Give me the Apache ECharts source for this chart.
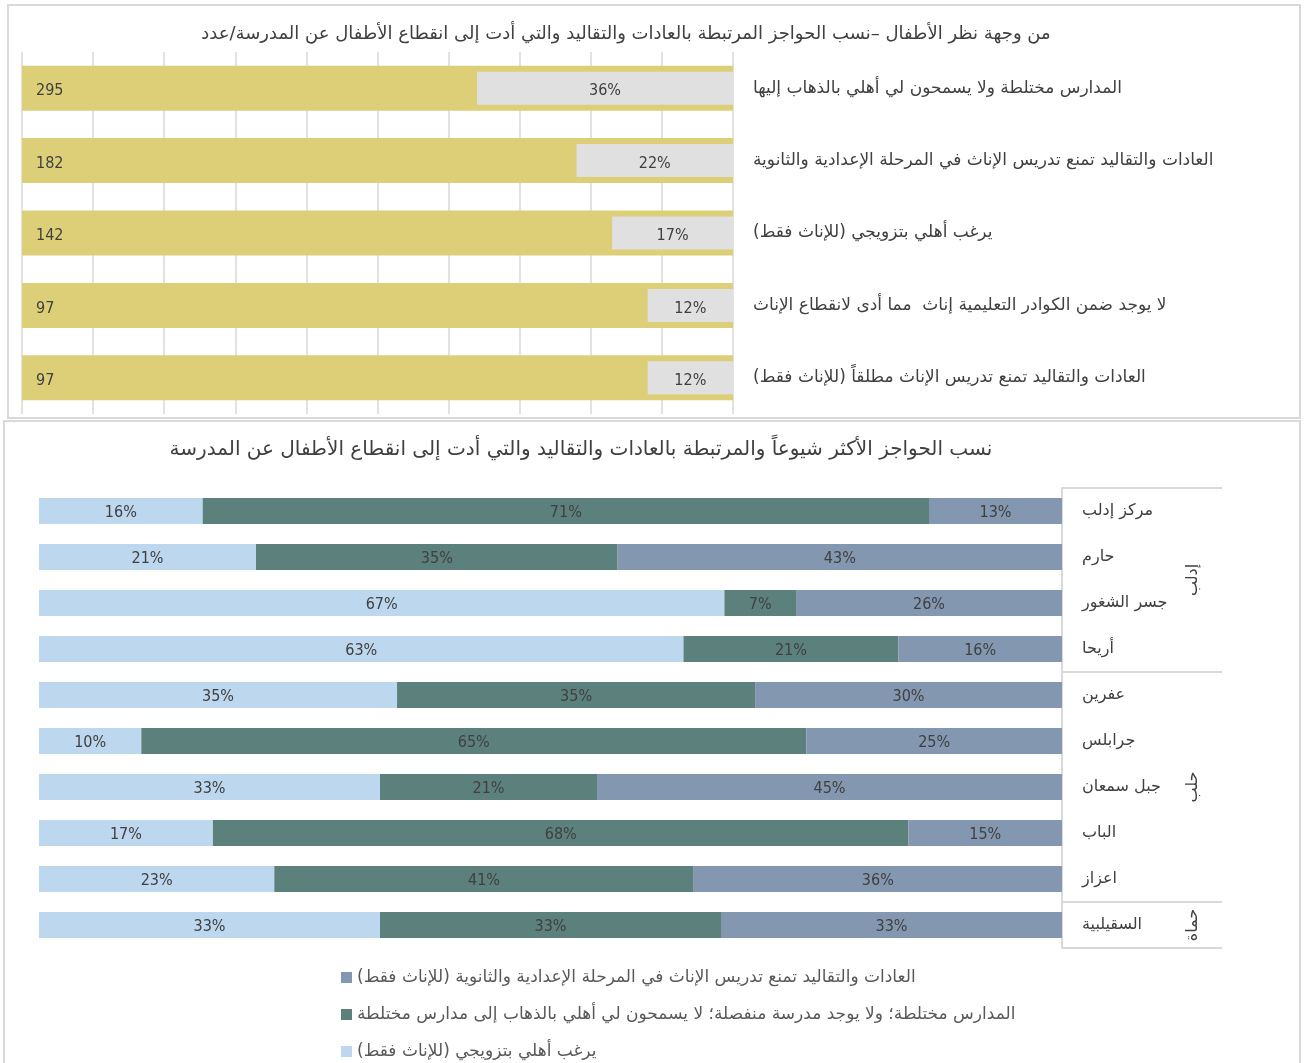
<!DOCTYPE html>
<html lang="ar">
<head>
<meta charset="utf-8">
<title>الحواجز المرتبطة بالعادات والتقاليد</title>
<script src="https://cdn.jsdelivr.net/npm/echarts@6/dist/echarts.min.js"></script>
<style>
  html, body { margin: 0; padding: 0; background: #ffffff; }
  #chart { width: 1307px; height: 1063px; direction: rtl; }
</style>
</head>
<body>
<div id="chart" dir="rtl"></div>
<script>
// ---- Upper chart: barriers from the children's point of view (count + share)
const topTitle = 'من وجهة نظر الأطفال –نسب الحواجز المرتبطة بالعادات والتقاليد والتي أدت إلى انقطاع الأطفال عن المدرسة/عدد';
const topCategories = [
  'المدارس مختلطة ولا يسمحون لي أهلي بالذهاب إليها',
  'العادات والتقاليد تمنع تدريس الإناث في المرحلة الإعدادية والثانوية',
  'يرغب أهلي بتزويجي (للإناث فقط)',
  'لا يوجد ضمن الكوادر التعليمية إناث  مما أدى لانقطاع الإناث',
  'العادات والتقاليد تمنع تدريس الإناث مطلقاً (للإناث فقط)'
];
const topCounts = [295, 182, 142, 97, 97];
const topShares = [36, 22, 17, 12, 12];

// ---- Lower chart: most common barriers by district (100% stacked)
const bottomTitle = 'نسب الحواجز الأكثر شيوعاً والمرتبطة بالعادات والتقاليد والتي أدت إلى انقطاع الأطفال عن المدرسة';
const districts = ['مركز إدلب', 'حارم', 'جسر الشغور', 'أريحا', 'عفرين', 'جرابلس', 'جبل سمعان', 'الباب', 'اعزاز', 'السقيلبية'];
const governorates = [
  { name: 'إدلب', first: 0, last: 3 },
  { name: 'حلب', first: 4, last: 8 },
  { name: 'حماة', first: 9, last: 9 }
];
const marriageShare   = [16, 21, 67, 63, 35, 10, 33, 17, 23, 33];
const mixedShare      = [71, 35, 7, 21, 35, 65, 21, 68, 41, 33];
const traditionsShare = [13, 43, 26, 16, 30, 25, 45, 15, 36, 33];
const seriesNames = [
  'يرغب أهلي بتزويجي (للإناث فقط)',
  'المدارس مختلطة؛ ولا يوجد مدرسة منفصلة؛ لا يسمحون لي أهلي بالذهاب إلى مدارس مختلطة',
  'العادات والتقاليد تمنع تدريس الإناث في المرحلة الإعدادية والثانوية (للإناث فقط)'
];

const ARABIC = "'DejaVu Sans', 'Noto Sans', sans-serif";
const NUM = "'DejaVu Sans Condensed', 'Liberation Sans Narrow', 'DejaVu Sans', sans-serif";
const TEXT = '#404040';
const GRID_LINE = '#d9d9d9';

// each district row is normalised to 100 like a percent-stacked chart
const rowTotals = districts.map((_, i) => marriageShare[i] + mixedShare[i] + traditionsShare[i]);
function pctRow(arr) {
  return arr.map((v, i) => ({ value: v / rowTotals[i] * 100, raw: v }));
}

const chart = echarts.init(document.getElementById('chart'), null, { renderer: 'canvas' });

const numLabel = {
  show: true,
  color: TEXT,
  fontFamily: NUM,
  fontSize: 16,
  fontWeight: 'lighter'
};

const option = {
  animation: false,
  backgroundColor: '#ffffff',
  grid: [
    { left: 22, right: 574, top: 52, height: 362, containLabel: false },
    { left: 39, right: 245, top: 488, height: 460, containLabel: false }
  ],
  xAxis: [
    {
      gridIndex: 0, type: 'value', min: 0, max: 100, interval: 10,
      axisLabel: { show: false }, axisLine: { show: false }, axisTick: { show: false },
      splitLine: { show: true, lineStyle: { color: GRID_LINE, width: 1.5 } }
    },
    {
      gridIndex: 1, type: 'value', min: 0, max: 100,
      axisLabel: { show: false }, axisLine: { show: false }, axisTick: { show: false },
      splitLine: { show: false }
    }
  ],
  yAxis: [
    {
      gridIndex: 0, type: 'category', data: topCategories, inverse: true, position: 'right',
      axisLine: { show: false }, axisTick: { show: false },
      axisLabel: { margin: 20, align: 'left', color: TEXT, fontFamily: ARABIC, fontSize: 17 }
    },
    {
      gridIndex: 0, type: 'category', data: topCategories, inverse: true, position: 'right',
      show: false
    },
    {
      gridIndex: 1, type: 'category', data: districts, inverse: true, position: 'right',
      axisLine: { show: true, onZero: false, lineStyle: { color: GRID_LINE, width: 2 } },
      axisTick: { show: false },
      axisLabel: { margin: 20, align: 'left', color: TEXT, fontFamily: ARABIC, fontSize: 16 }
    }
  ],
  legend: {
    orient: 'vertical',
    left: 336,
    top: 964,
    height: 160,
    itemWidth: 11,
    itemHeight: 11,
    itemGap: 20,
    icon: 'rect',
    data: [seriesNames[2], seriesNames[1], seriesNames[0]],
    textStyle: { color: '#595959', fontFamily: ARABIC, fontSize: 17, padding: [0, 0, 0, 0] }
  },
  series: [
    // full-length yellow band carrying the count
    {
      type: 'bar', xAxisIndex: 0, yAxisIndex: 0, barWidth: 45,
      data: topCounts.map(() => 100),
      itemStyle: { color: '#dccf78' },
      label: Object.assign({}, numLabel, {
        position: 'insideLeft', distance: 14, offset: [0, 3],
        formatter: p => String(topCounts[p.dataIndex])
      }),
      silent: true
    },
    // offset so the share bar grows from the right edge
    {
      type: 'bar', xAxisIndex: 0, yAxisIndex: 1, barWidth: 33, stack: 'share',
      data: topShares.map(v => 100 - v),
      itemStyle: { color: 'rgba(0,0,0,0)' },
      silent: true
    },
    {
      type: 'bar', xAxisIndex: 0, yAxisIndex: 1, barWidth: 33, stack: 'share',
      data: topShares,
      itemStyle: { color: '#e0e0e0' },
      label: Object.assign({}, numLabel, { position: 'inside', offset: [0, 3], formatter: p => p.value + '%' })
    },
    // district rows
    {
      name: seriesNames[0], type: 'bar', xAxisIndex: 1, yAxisIndex: 2, stack: 'district', barWidth: 26,
      data: pctRow(marriageShare),
      itemStyle: { color: '#bdd7ee' },
      label: Object.assign({}, numLabel, { position: 'inside', offset: [0, 2], formatter: p => p.data.raw + '%' })
    },
    {
      name: seriesNames[1], type: 'bar', xAxisIndex: 1, yAxisIndex: 2, stack: 'district', barWidth: 26,
      data: pctRow(mixedShare),
      itemStyle: { color: '#5c807b' },
      label: Object.assign({}, numLabel, { position: 'inside', offset: [0, 2], formatter: p => p.data.raw + '%' })
    },
    {
      name: seriesNames[2], type: 'bar', xAxisIndex: 1, yAxisIndex: 2, stack: 'district', barWidth: 26,
      data: pctRow(traditionsShare),
      itemStyle: { color: '#8497b0' },
      label: Object.assign({}, numLabel, { position: 'inside', offset: [0, 2], formatter: p => p.data.raw + '%' })
    }
  ]
};

chart.setOption(option);

// frames, titles and governorate brackets
function buildDecorations() {
  const els = [];
  els.push({ type: 'rect', shape: { x: 8, y: 5, width: 1292, height: 413 },
    style: { fill: null, stroke: GRID_LINE, lineWidth: 2 }, z: -10 });
  els.push({ type: 'rect', shape: { x: 4, y: 421, width: 1296, height: 650 },
    style: { fill: null, stroke: GRID_LINE, lineWidth: 2 }, z: -10 });
  els.push({ type: 'text', x: 626, y: 34,
    style: { text: topTitle, fill: TEXT, font: '18px ' + ARABIC, textAlign: 'center', textVerticalAlign: 'middle' } });
  els.push({ type: 'text', x: 581, y: 450,
    style: { text: bottomTitle, fill: TEXT, font: '20px ' + ARABIC, textAlign: 'center', textVerticalAlign: 'middle' } });

  const c0 = chart.convertToPixel({ yAxisIndex: 2 }, 0);
  const c1 = chart.convertToPixel({ yAxisIndex: 2 }, 1);
  const half = (c1 - c0) / 2;
  const xLeft = chart.convertToPixel({ xAxisIndex: 1 }, 100);
  const xRight = xLeft + 160;
  const lineStyle = { stroke: GRID_LINE, lineWidth: 2 };
  els.push({ type: 'line', shape: { x1: xLeft, y1: c0 - half, x2: xRight, y2: c0 - half }, style: lineStyle });
  governorates.forEach(g => {
    const top = chart.convertToPixel({ yAxisIndex: 2 }, g.first) - half;
    const bottom = chart.convertToPixel({ yAxisIndex: 2 }, g.last) + half;
    els.push({ type: 'line', shape: { x1: xLeft, y1: bottom, x2: xRight, y2: bottom }, style: lineStyle });
    els.push({ type: 'text', x: xLeft + 131, y: (top + bottom) / 2, rotation: Math.PI / 2,
      style: { text: g.name, fill: TEXT, font: '16px ' + ARABIC, textAlign: 'center', textVerticalAlign: 'middle' } });
  });
  return els;
}

chart.setOption({ graphic: { elements: buildDecorations() } });
</script>
</body>
</html>
